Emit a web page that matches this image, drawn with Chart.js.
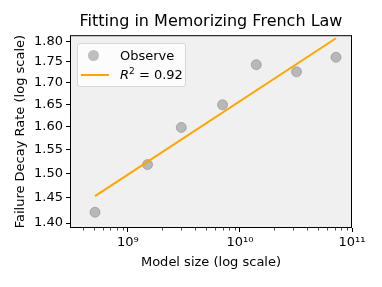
<!DOCTYPE html>
<html>
<head>
<meta charset="utf-8">
<script src="https://cdn.jsdelivr.net/npm/chart.js@4/dist/chart.umd.min.js"></script>
<style>
  body { margin: 0; background: #fff; }
  #wrap { position: relative; width: 382px; height: 287px; }
  #legend {
    position: absolute; left: 77px; top: 43px; width: 109px; height: 44px;
    box-sizing: border-box; border: 1px solid #d6d6d6; border-radius: 3px;
    background: rgba(255,255,255,0.8);
    font-family: 'DejaVu Sans'; font-size: 13px; color: #000;
  }
  .row { position: absolute; left: 0; height: 16px; line-height: 16px; white-space: nowrap; }
  .row .txt { position: absolute; left: 42px; top: 0; }
  .dot { position: absolute; left: 10px; top: 2px; width: 11px; height: 11px; border-radius: 50%; }
  .ln { position: absolute; left: 3px; top: 7px; width: 28px; height: 2px; }
  sup { font-size: 9px; vertical-align: 5px; line-height: 0; }
</style>
</head>
<body>
<div id="wrap">
  <canvas id="myChart" width="382" height="287"></canvas>
  <div id="legend"></div>
</div>
<script>
// observed points
var model_sizes = [0.51e9, 1.5e9, 3e9, 7e9, 14e9, 32e9, 72e9];
var decay_rates = [1.421, 1.518, 1.598, 1.649, 1.743, 1.726, 1.761];
// fitted line end points
var fit_sizes = [0.51e9, 72e9];
var fit_rates = [1.453, 1.808];
var r2 = 0.92;

var x_ticks = [1e9, 1e10, 1e11];
var x_tick_labels = ['10⁹', '10¹⁰', '10¹¹'];
var y_ticks = [1.40, 1.45, 1.50, 1.55, 1.60, 1.65, 1.70, 1.75, 1.80];

var x_minor = [];
for (var e = 8; e <= 10; e++) {
    for (var k = 2; k <= 9; k++) x_minor.push(k * Math.pow(10, e));
}

Chart.defaults.font.family = 'DejaVu Sans';
Chart.defaults.color = '#000';

const framePlugin = {
    id: 'frame',
    beforeDraw(chart) {
        const ctx = chart.ctx, a = chart.chartArea;
        ctx.save();
        ctx.fillStyle = '#f0f0f0';
        ctx.fillRect(a.left, a.top, a.right - a.left, a.bottom - a.top);
        ctx.restore();
    },
    afterDraw(chart) {
        const ctx = chart.ctx, a = chart.chartArea, xs = chart.scales.x;
        ctx.save();
        ctx.strokeStyle = '#000';
        ctx.lineWidth = 1;
        ctx.strokeRect(a.left + 0.5, a.top + 0.5, a.right - a.left - 1, a.bottom - a.top - 1);
        ctx.lineWidth = 0.7;
        x_minor.forEach(function (v) {
            if (v < xs.min || v > xs.max) return;
            const px = Math.round(xs.getPixelForValue(v)) + 0.5;
            ctx.beginPath();
            ctx.moveTo(px, a.bottom);
            ctx.lineTo(px, a.bottom + 2.5);
            ctx.stroke();
        });
        ctx.restore();
    }
};

const ctx = document.getElementById('myChart');
var chart = new Chart(ctx, {
    type: 'scatter',
    data: {
        datasets: [{
            label: 'Observe',
            data: model_sizes.map((x, i) => ({x: x, y: decay_rates[i]})),
            backgroundColor: 'rgba(128,128,128,0.5)',
            borderColor: 'rgba(128,128,128,0.5)',
            borderWidth: 1,
            pointRadius: 5,
            order: 2
        }, {
            label: 'R² = ' + r2.toFixed(2),
            data: fit_sizes.map((x, i) => ({x: x, y: fit_rates[i]})),
            showLine: true,
            borderColor: '#ffa500',
            backgroundColor: '#ffa500',
            borderWidth: 2,
            pointRadius: 0,
            order: 1
        }]
    },
    options: {
        responsive: false,
        animation: false,
        events: [],
        layout: { padding: { left: 0, right: 30, top: 0, bottom: 0 } },
        plugins: {
            legend: { display: false },
            tooltip: { enabled: false },
            title: {
                display: true,
                text: 'Fitting in Memorizing French Law',
                fullSize: false,
                font: { size: 16, weight: 'normal' },
                padding: { top: 12, bottom: 4 }
            }
        },
        scales: {
            x: {
                type: 'logarithmic',
                min: 3.05e8,
                max: 1e11,
                afterBuildTicks: (scale) => { scale.ticks = x_ticks.map(v => ({value: v})); },
                afterFit: (scale) => { scale.height = 59; },
                ticks: {
                    autoSkip: false,
                    maxRotation: 0,
                    padding: 3,
                    font: { size: 13 },
                    callback: (v) => x_tick_labels[x_ticks.indexOf(v)]
                },
                grid: { drawOnChartArea: false, tickLength: 4, tickColor: '#000', tickWidth: 1 },
                border: { display: false },
                title: {
                    display: true,
                    text: 'Model size (log scale)',
                    font: { size: 13 },
                    padding: { top: 17, bottom: 17 }
                }
            },
            y: {
                type: 'logarithmic',
                min: 1.3904,
                max: 1.8157,
                afterBuildTicks: (scale) => { scale.ticks = y_ticks.map(v => ({value: v})); },
                afterFit: (scale) => { scale.width = 70; },
                ticks: {
                    autoSkip: false,
                    padding: 3,
                    font: { size: 13 },
                    callback: (v) => Number(v).toFixed(2)
                },
                grid: { drawOnChartArea: false, tickLength: 4, tickColor: '#000', tickWidth: 1 },
                border: { display: false },
                title: {
                    display: true,
                    text: 'Failure Decay Rate (log scale)',
                    font: { size: 13 },
                    padding: { top: 13, bottom: 13 }
                }
            }
        }
    },
    plugins: [framePlugin]
});

// legend box inside the axes, built from the datasets
var legend = document.getElementById('legend');
chart.data.datasets.forEach(function (ds, i) {
    var row = document.createElement('div');
    row.className = 'row';
    row.style.top = (4 + i * 19) + 'px';
    row.style.width = '100%';
    var mark = document.createElement('span');
    if (ds.showLine) {
        mark.className = 'ln';
        mark.style.background = ds.borderColor;
    } else {
        mark.className = 'dot';
        mark.style.background = ds.backgroundColor;
    }
    var txt = document.createElement('span');
    txt.className = 'txt';
    txt.innerHTML = ds.label.replace(/^R²/, '<i>R</i><sup>2</sup>');
    row.appendChild(mark);
    row.appendChild(txt);
    legend.appendChild(row);
});
</script>
</body>
</html>
